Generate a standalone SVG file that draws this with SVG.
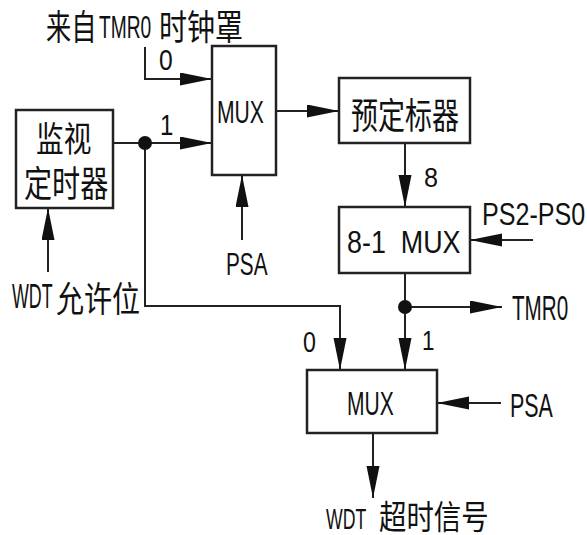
<svg xmlns="http://www.w3.org/2000/svg" width="587" height="535" viewBox="0 0 587 535">
<defs>
<marker id="arr" markerUnits="userSpaceOnUse" markerWidth="34" markerHeight="14" refX="32" refY="6.5" orient="auto"><path d="M0,0 L32,6.5 L0,13 z" fill="#111"/></marker>
<style>
.box{fill:#fff;stroke:#222;stroke-width:2.5}
.ln{fill:none;stroke:#222;stroke-width:2}
.ar{marker-end:url(#arr)}
.lt{font-family:"Liberation Sans",Arial,sans-serif;fill:#111}
.cj{font-family:"Noto Sans CJK SC","Liberation Sans",sans-serif;fill:#111}
</style>
</defs>
<rect width="587" height="535" fill="#fff"/>
<g id="connectors">
<polyline class="ln ar" points="145,47 145,79 212,79"/>
<line class="ln ar" x1="113" y1="143" x2="212" y2="143"/>
<polyline class="ln ar" points="145,143 145,306 340,306 340,370"/>
<line class="ln ar" x1="48" y1="272" x2="48" y2="208"/>
<line class="ln ar" x1="242" y1="240" x2="242" y2="175"/>
<line class="ln ar" x1="276" y1="111" x2="339" y2="111"/>
<line class="ln ar" x1="405" y1="143" x2="405" y2="207"/>
<line class="ln ar" x1="533" y1="240" x2="470" y2="240"/>
<line class="ln ar" x1="405" y1="273" x2="405" y2="370"/>
<line class="ln ar" x1="405" y1="307" x2="502" y2="307"/>
<line class="ln ar" x1="501" y1="403" x2="437" y2="403"/>
<line class="ln ar" x1="373" y1="433" x2="373" y2="498"/>
<circle cx="145" cy="143" r="7" fill="#111"/>
<circle cx="405" cy="307" r="7" fill="#111"/>
<text class="lt" font-size="29" transform="translate(159,70) scale(0.85,1)">0</text>
<text class="lt" font-size="30" transform="translate(160,135) scale(0.8,1)">1</text>
<text class="lt" font-size="28" transform="translate(424,187) scale(0.9,1)">8</text>
<text class="lt" font-size="29" transform="translate(303,352) scale(0.8,1)">0</text>
<text class="lt" font-size="28" transform="translate(422,350) scale(0.8,1)">1</text>
</g>
<g id="title">
<text class="cj" font-size="35" transform="translate(46,40) scale(0.72,1)">来自</text>
<text class="lt" font-size="32" transform="translate(99,38) scale(0.6,1)">TMR0</text>
<text class="cj" font-size="35" transform="translate(159,40) scale(0.8,1)">时钟罩</text>
</g>
<g id="watchdog">
<rect class="box" x="16" y="110" width="97" height="98"/>
<text class="cj" font-size="35" transform="translate(36,152) scale(0.79,1)">监视</text>
<text class="cj" font-size="36" transform="translate(24,197) scale(0.78,1)">定时器</text>
</g>
<g id="wdt-enable">
<text class="lt" font-size="35" transform="translate(12,308) scale(0.51,1)">WDT</text>
<text class="cj" font-size="35" transform="translate(56,312) scale(0.8,1)">允许位</text>
</g>
<g id="mux1">
<rect class="box" x="212" y="46" width="64" height="129"/>
<text class="lt" font-size="32" transform="translate(217,123) scale(0.66,1)">MUX</text>
</g>
<g id="psa1">
<text class="lt" font-size="31" transform="translate(226,275) scale(0.67,1)">PSA</text>
</g>
<g id="prescaler">
<rect class="box" x="339" y="78" width="131" height="65"/>
<text class="cj" font-size="36" transform="translate(351,129) scale(0.75,1)">预定标器</text>
</g>
<g id="mux8">
<rect class="box" x="339" y="207" width="131" height="66"/>
<text class="lt" font-size="32" transform="translate(347,253) scale(0.84,1)" xml:space="preserve">8-1  MUX</text>
</g>
<g id="ps">
<text class="lt" font-size="31" transform="translate(482,225) scale(0.81,1)">PS2-PS0</text>
</g>
<g id="tmr0">
<text class="lt" font-size="35" transform="translate(512,320) scale(0.59,1)">TMR0</text>
</g>
<g id="mux2">
<rect class="box" x="307" y="370" width="130" height="63"/>
<text class="lt" font-size="34" transform="translate(347,415) scale(0.62,1)">MUX</text>
</g>
<g id="psa2">
<text class="lt" font-size="33" transform="translate(510,417) scale(0.65,1)">PSA</text>
</g>
<g id="wdt-out">
<text class="lt" font-size="29" transform="translate(326,529) scale(0.61,1)">WDT</text>
<text class="cj" font-size="33" transform="translate(379,529) scale(0.83,1)">超时信号</text>
</g>
</svg>
